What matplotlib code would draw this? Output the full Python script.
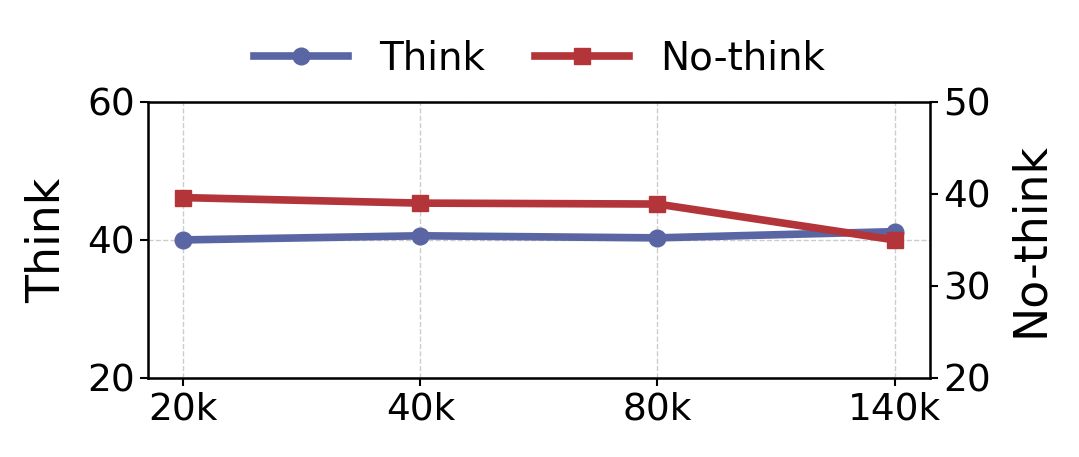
import matplotlib
matplotlib.use('Agg')
import matplotlib.pyplot as plt

# Data
contexts = ["20k", "40k", "80k", "140k"]
think = [40.0, 40.6, 40.3, 41.2]
no_think = [39.6, 39.0, 38.9, 35.0]

blue = "#5a66a3"
red = "#b33539"

fig, ax = plt.subplots(figsize=(10.79, 4.57), dpi=100)
x = list(range(len(contexts)))

l1, = ax.plot(x, think, color=blue, marker="o", lw=5.5, ms=12, label="Think")
ax.set_ylim(20, 60)
ax.set_yticks([20, 40, 60])
ax.set_ylabel("Think", fontsize=33, labelpad=12)
ax.set_xticks(x)
ax.set_xticklabels(contexts)
ax.set_xlim(-0.15, 3.15)
ax.tick_params(labelsize=27, width=1.5, length=6)
ax.grid(True, ls="--", color="#cccccc", lw=1)
for s in ax.spines.values():
    s.set_linewidth(1.8)

ax2 = ax.twinx()
l2, = ax2.plot(x, no_think, color=red, marker="s", lw=5.5, ms=11, label="No-think")
ax2.set_ylim(20, 50)
ax2.set_yticks([20, 30, 40, 50])
ax2.set_ylabel("No-think", fontsize=33, labelpad=12)
ax2.tick_params(labelsize=27, width=1.5, length=6)

fig.legend(handles=[l1, l2], loc="upper center", bbox_to_anchor=(0.5, 0.99),
           ncol=2, frameon=False, fontsize=28, handlelength=2.4, columnspacing=1.3)

fig.subplots_adjust(left=0.137, right=0.862, top=0.777, bottom=0.173)
plt.savefig("out.png", dpi=100)
